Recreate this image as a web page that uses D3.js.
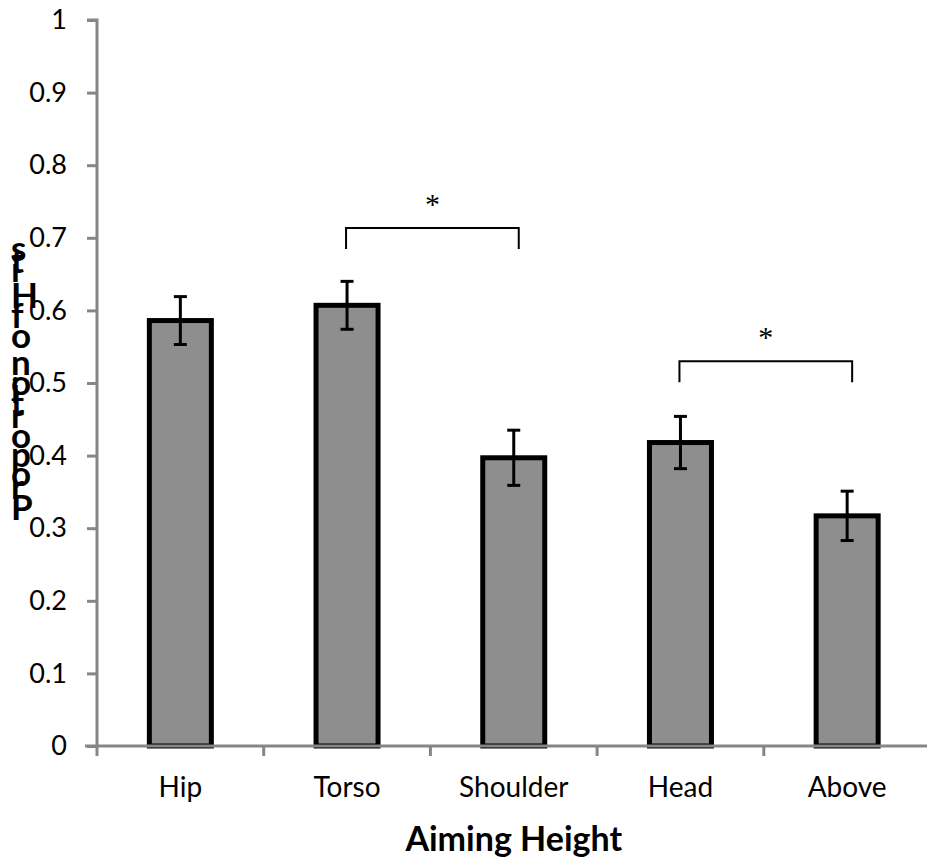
<!DOCTYPE html>
<html><head><meta charset="utf-8">
<script src="https://cdn.jsdelivr.net/npm/d3@7"></script>
<style>body{margin:0;background:#fff}svg{display:block}</style>
</head><body>
<svg id="chart" width="927" height="861"></svg>
<script>
const categories = ["Hip", "Torso", "Shoulder", "Head", "Above"];
const values = [0.586, 0.607, 0.397, 0.418, 0.317];
const errors = [0.033, 0.033, 0.038, 0.036, 0.034];
const yTicks = [0, 0.1, 0.2, 0.3, 0.4, 0.5, 0.6, 0.7, 0.8, 0.9, 1];
const yTickLabels = ["0", "0.1", "0.2", "0.3", "0.4", "0.5", "0.6", "0.7", "0.8", "0.9", "1"];
const bracketFrom = ["Torso", "Head"];
const bracketTo = ["Shoulder", "Above"];
const bracketTop = [0.7135, 0.530];
const bracketLeg = [0.6846, 0.501];
const bracketLabel = ["*", "*"];
const xTitle = "Aiming Height";
const yTitle = "Proportion of Hits";

(function () {
const svg = d3.select("#chart");
const mLeft = 97, mRight = 930.5, mTop = 20, mBottom = 746;
const font = "Lato, 'Open Sans', sans-serif";
const axisColor = "#868686";

const x = d3.scaleBand().domain(categories).range([mLeft, mRight]).paddingInner(0).paddingOuter(0);
const y = d3.scaleLinear().domain([0, 1]).range([mBottom, mTop]);

// bars
const barW = x.bandwidth() * 0.372;
svg.append("g").selectAll("rect").data(categories).join("rect")
  .attr("x", d => x(d) + x.bandwidth() / 2 - barW / 2)
  .attr("y", (d, i) => y(values[i]))
  .attr("width", barW)
  .attr("height", (d, i) => y(0) - y(values[i]))
  .attr("fill", "#8e8e8e").attr("stroke", "#000").attr("stroke-width", 5);

// error bars
const eg = svg.append("g").attr("stroke", "#000").attr("stroke-width", 3);
categories.forEach((c, i) => {
  const cx = x(c) + x.bandwidth() / 2;
  const hi = y(values[i] + errors[i]), lo = y(values[i] - errors[i]);
  eg.append("line").attr("x1", cx).attr("x2", cx).attr("y1", hi).attr("y2", lo);
  eg.append("line").attr("x1", cx - 6.5).attr("x2", cx + 6.5).attr("y1", hi).attr("y2", hi);
  eg.append("line").attr("x1", cx - 6.5).attr("x2", cx + 6.5).attr("y1", lo).attr("y2", lo);
});

// y axis
const yAxis = d3.axisLeft(y).tickValues(yTicks).tickFormat((d, i) => yTickLabels[i]).tickSize(10).tickPadding(20);
const ya = svg.append("g").attr("transform", `translate(${mLeft},0)`).call(yAxis);
ya.select(".domain").attr("stroke", axisColor).attr("stroke-width", 3).attr("d", `M-10,${mTop}H0V${mBottom}`);
ya.selectAll(".tick line").attr("stroke", axisColor).attr("stroke-width", 3);
ya.selectAll(".tick text").attr("font-family", font).attr("font-size", 27).attr("fill", "#000");

// x axis
const xa = svg.append("g").attr("transform", `translate(0,${mBottom})`);
xa.append("line").attr("x1", mLeft - 12).attr("x2", 927).attr("y1", 0).attr("y2", 0)
  .attr("stroke", axisColor).attr("stroke-width", 3);
xa.selectAll(".xt").data(categories).join("line").attr("class", "xt")
  .attr("x1", d => x(d)).attr("x2", d => x(d)).attr("y1", 0).attr("y2", 10)
  .attr("stroke", axisColor).attr("stroke-width", 3);
xa.selectAll(".xl").data(categories).join("text").attr("class", "xl")
  .attr("x", d => x(d) + x.bandwidth() / 2).attr("y", 51)
  .attr("text-anchor", "middle").attr("font-family", font).attr("font-size", 28).attr("fill", "#000")
  .text(d => d);

// x title
svg.append("text").attr("x", (mLeft + mRight) / 2).attr("y", 851).attr("text-anchor", "middle")
  .attr("font-family", font).attr("font-weight", "bold").attr("font-size", 34).text(xTitle);

// y title: upright letters stacked bottom to top
const yt = svg.append("g");
const chars = Array.from(yTitle);
const tmp = yt.append("text").attr("font-family", font).attr("font-weight", "bold").attr("font-size", 35);
const adv = chars.map(ch => { tmp.text(ch === " " ? "\u00a0" : ch); return tmp.node().getComputedTextLength(); });
tmp.remove();
const total = d3.sum(adv);
const span = 274;
let pos = 520;
chars.forEach((ch, i) => {
  if (ch !== " ") {
    yt.append("text").attr("x", 11).attr("y", pos).attr("font-family", font).attr("font-weight", "bold")
      .attr("font-size", 35).attr("fill", "#000").text(ch);
  }
  pos -= adv[i] / total * span;
});

// significance brackets
bracketFrom.forEach((f, i) => {
  const x1 = x(f) + x.bandwidth() / 2 - 1;
  const x2 = x(bracketTo[i]) + x.bandwidth() / 2 + 5;
  const yt0 = y(bracketTop[i]), yl = y(bracketLeg[i]);
  svg.append("path").attr("d", `M${x1},${yl}V${yt0}H${x2}V${yl}`)
    .attr("fill", "none").attr("stroke", "#000").attr("stroke-width", 2);
  svg.append("text").attr("x", (x1 + x2) / 2).attr("y", yt0 - 14).attr("text-anchor", "middle")
    .attr("font-family", "'Liberation Serif', serif").attr("font-size", 30).text(bracketLabel[i]);
});
})();
</script>
</body></html>
